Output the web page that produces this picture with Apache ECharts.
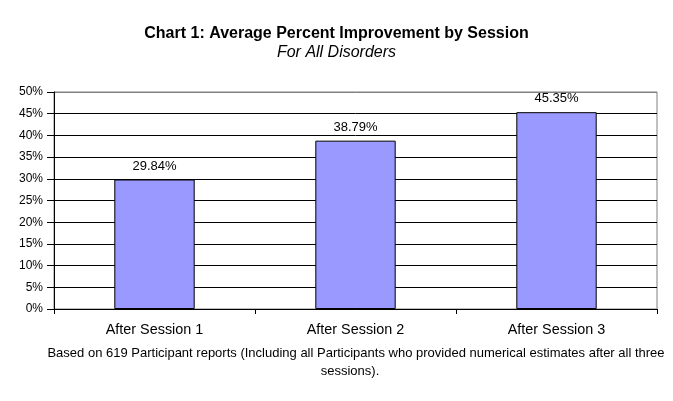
<!DOCTYPE html>
<html><head><meta charset="utf-8">
<script src="https://cdn.jsdelivr.net/npm/echarts@6/dist/echarts.min.js"></script>
<style>html,body{margin:0;padding:0;background:#fff}#c{width:673px;height:401px}</style>
</head><body><div id="c"></div>
<script>
var categories = ['After Session 1', 'After Session 2', 'After Session 3'];
var values = [29.84, 38.79, 45.35];
var yTicks = [0, 5, 10, 15, 20, 25, 30, 35, 40, 45, 50];
var titleText = 'Chart 1: Average Percent Improvement by Session';
var subtitleText = 'For All Disorders';
var footLines = ['Based on 619 Participant reports (Including all Participants who provided numerical estimates after all three', 'sessions).'];

var F = 'Liberation Sans, Arial, sans-serif';
var footX = [356, 350];
var gridColors = yTicks.map(function (v, i) { return i === yTicks.length - 1 ? '#808080' : '#000'; });
var chart = echarts.init(document.getElementById('c'), null, {renderer: 'canvas'});
chart.setOption({
  animation: false,
  backgroundColor: '#fff',
  title: [
    {text: titleText, left: 'center', top: 21, textStyle: {fontFamily: F, fontSize: 16, fontWeight: 'bold', color: '#000'}},
    {text: subtitleText, left: 'center', top: 40, textStyle: {fontFamily: F, fontSize: 16, fontStyle: 'italic', fontWeight: 'normal', color: '#000'}}
  ],
  graphic: footLines.map(function (t, i) {
    return {type: 'text', x: footX[i], y: 347 + i * 18, style: {text: t, font: '13px ' + F, fill: '#000', textAlign: 'center', textVerticalAlign: 'top'}};
  }),
  grid: {left: 54, right: 16, top: 92, bottom: 92, show: true, borderColor: '#808080', borderWidth: 1, backgroundColor: '#fff'},
  xAxis: {
    type: 'category', data: categories,
    axisLine: {lineStyle: {color: '#000', width: 1}},
    axisTick: {show: true, alignWithLabel: false, length: 5, lineStyle: {color: '#000'}},
    axisLabel: {fontFamily: F, fontSize: 14.4, color: '#000', margin: 14}
  },
  yAxis: {
    type: 'value', min: 0, max: 50, interval: 5,
    axisLine: {show: true, lineStyle: {color: '#000', width: 1}},
    axisTick: {show: true, length: 7, lineStyle: {color: '#000'}},
    axisLabel: {fontFamily: F, fontSize: 12, color: '#000', margin: 11, formatter: function (v) { return yTicks.indexOf(v) >= 0 ? v + '%' : ''; }},
    splitLine: {show: true, lineStyle: {color: gridColors, width: 1}}
  },
  series: [{
    type: 'bar', data: values, barWidth: '40%',
    itemStyle: {color: '#9999FF', borderColor: '#000', borderWidth: 1},
    label: {show: true, position: 'top', distance: 7, fontFamily: F, fontSize: 13, color: '#000', formatter: function (p) { return p.value.toFixed(2) + '%'; }}
  }]
});
</script></body></html>
